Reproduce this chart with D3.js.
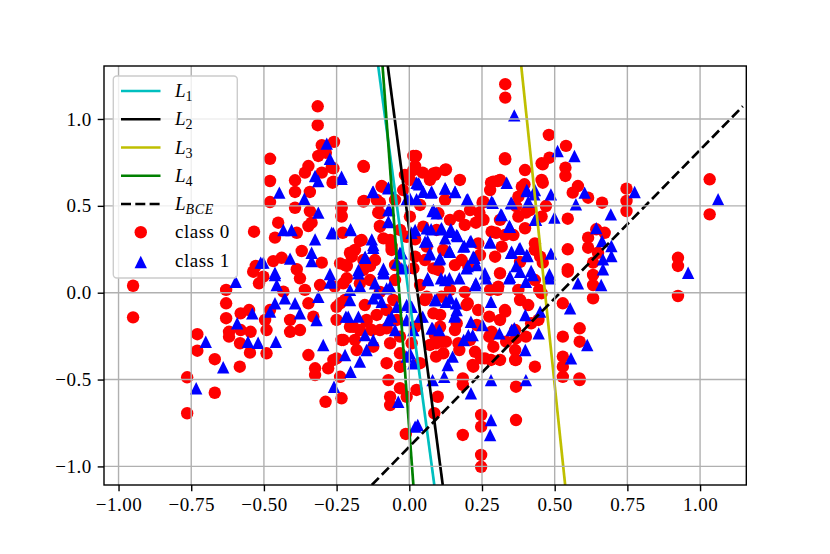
<!DOCTYPE html>
<html>
<head>
<meta charset="utf-8">
<script src="https://cdn.jsdelivr.net/npm/d3@7"></script>
<style>
html,body{margin:0;padding:0;background:#fff;}
svg{display:block;}
text{font-family:"Liberation Serif","Times New Roman",serif;}
</style>
</head>
<body>
<svg id="chart" width="830" height="554"></svg>
<script>
// ---------------- data ----------------
const xTicks = [-1, -0.75, -0.5, -0.25, 0, 0.25, 0.5, 0.75, 1];
const yTicks = [-1, -0.5, 0, 0.5, 1];

const lineL1 = [[-0.107, 1.305], [0.086, -1.107]];
const lineL2 = [[-0.074, 1.305], [0.115, -1.107]];
const lineL3 = [[0.385, 1.305], [0.536, -1.107]];
const lineL4 = [[-0.092, 1.305], [0.014, -1.107]];
const lineBCE = [[-0.129, -1.107], [1.147, 1.073]];

const class0 = [
[-0.534,0.351],[-0.528,0.154],[-0.950,0.040],[-0.950,-0.142],[-0.537,0.121],[-0.630,0.016],[-0.630,-0.061],[-0.630,-0.147],[-0.620,-0.225],[-0.620,-0.253],
[-0.580,-0.119],[-0.551,-0.100],[-0.580,-0.215],[-0.546,-0.225],[-0.582,-0.291],[-0.548,-0.345],[-0.729,-0.239],[-0.729,-0.334],[-0.669,-0.383],[-0.583,-0.426],
[-0.764,-0.487],[-0.669,-0.576],[-0.764,-0.694],[-0.517,0.054],
[-0.315,1.073],[-0.315,0.964],[-0.301,0.849],[-0.259,0.868],[-0.313,0.787],[-0.287,0.806],[-0.479,0.771],[-0.156,0.725],[-0.347,0.729],[-0.359,0.691],
[-0.301,0.691],[-0.267,0.720],[-0.264,0.633],[-0.393,0.647],[-0.479,0.643],[-0.342,0.580],[-0.393,0.580],[-0.479,0.522],[-0.393,0.489],[-0.342,0.470],
[-0.233,0.489],[-0.233,0.442],[-0.156,0.528],[-0.095,0.614],[0.014,0.787],[0.020,0.729],[-0.101,0.518],[-0.107,0.461],[-0.101,0.384],[-0.451,0.403],
[-0.462,0.317],[-0.387,0.345],[-0.347,0.384],[-0.336,0.403],[-0.229,0.345],[-0.170,0.298],[-0.204,0.230],[-0.061,0.269],[0.020,0.307],[-0.370,0.240],
[-0.301,0.173],[-0.439,0.201],[-0.468,0.182],[-0.387,0.135],[-0.215,0.154],[-0.135,0.154],
[-0.502,0.092],[-0.376,0.083],[-0.433,0.006],[-0.479,-0.100],[-0.347,-0.061],[-0.410,-0.157],[-0.410,-0.225],[-0.491,-0.215],[-0.491,-0.349],[-0.330,-0.138],
[-0.347,-0.359],[-0.324,-0.435],[-0.324,-0.474],[-0.279,-0.435],[-0.250,-0.378],[-0.233,-0.272],[-0.238,-0.484],[-0.288,-0.628],[-0.233,-0.608],[-0.181,-0.330],
[-0.129,-0.215],[-0.238,-0.061],[-0.193,-0.196],[-0.147,-0.167],[-0.078,-0.205],[-0.078,-0.100],[-0.170,0.054],[-0.227,0.054],[-0.032,-0.253],[-0.032,-0.349],
[-0.032,-0.426],[-0.072,-0.503],[-0.032,-0.550],[-0.066,-0.599],[-0.066,-0.647],[-0.009,-0.599],[0.025,-0.560],[-0.012,-0.813],
[0.330,1.200],[0.330,1.123],[0.480,0.908],[0.539,0.845],[0.482,0.777],[0.459,0.739],[0.537,0.720],[0.537,0.672],[0.459,0.633],[0.330,0.768],
[0.023,0.787],[0.281,0.633],[0.304,0.643],[0.396,0.624],[0.562,0.576],[0.470,0.499],[0.545,0.426],[0.401,0.461],[0.367,0.499],[0.252,0.518],
[0.252,0.423],[0.298,0.345],[0.545,0.250],[0.545,0.135],[0.126,0.710],[0.092,0.691],[0.046,0.691],[0.172,0.442],[0.229,0.403],[0.241,0.461],[0.459,0.173],
[0.545,0.121],[0.447,0.016],[0.304,0.016],[0.201,-0.061],[0.275,-0.138],[0.330,-0.109],[0.528,-0.061],[0.419,-0.176],[0.401,-0.253],[0.528,-0.253],
[0.367,-0.263],[0.333,-0.282],[0.275,-0.253],[0.367,-0.387],[0.092,-0.291],[0.126,-0.282],[0.172,-0.330],[0.092,-0.368],[0.218,-0.416],[0.247,-0.378],
[0.281,-0.387],[0.528,-0.368],[0.528,-0.426],[0.528,-0.484],[0.585,-0.493],[0.184,-0.493],[0.184,-0.531],[0.367,-0.541],[0.098,-0.599],[0.086,-0.694],
[0.247,-0.704],[0.247,-0.771],[0.367,-0.733],[0.184,-0.819],[0.247,-0.934],[0.247,-1.002],
[0.580,0.614],[0.615,0.547],[0.663,0.518],[0.747,0.599],[0.747,0.528],[0.747,0.470],[1.033,0.653],[1.033,0.451],[0.643,0.365],[0.672,0.345],
[0.615,0.317],[0.615,0.259],[0.649,0.230],[0.632,0.173],[0.924,0.201],[0.924,0.154],
[0.632,0.102],[0.632,0.044],[0.632,-0.032],[0.924,-0.019],[0.586,-0.205],[0.586,-0.282],[0.586,-0.503],
[-0.158,0.729],[0.020,0.783],[0.014,0.706],[-0.261,0.716],[-0.261,0.639],[-0.095,0.610],[-0.158,0.524],[-0.233,0.495],[-0.233,0.438],[-0.112,0.534],
[-0.101,0.457],[-0.101,0.380],[-0.089,0.313],[-0.164,0.303],[-0.187,0.246],[-0.198,0.207],[-0.158,0.188],[-0.021,0.591],[0.002,0.649],[0.002,0.438],
[-0.009,0.322],[0.048,0.380],[0.060,0.265],[0.083,0.687],[0.094,0.361],[0.020,0.207],[-0.061,0.246],
[0.329,0.774],[0.123,0.706],[0.088,0.678],[0.289,0.639],[0.312,0.649],[0.387,0.610],[0.455,0.745],[0.455,0.649],[0.255,0.524],[0.123,0.534],
[0.100,0.457],[0.140,0.419],[0.255,0.419],[0.375,0.553],[0.375,0.438],[0.398,0.371],[0.455,0.438],[0.283,0.351],[0.329,0.332],[0.358,0.332],
[0.237,0.284],[0.318,0.265],[0.432,0.284],[0.450,0.207],[0.117,0.246],[0.180,0.188],[0.295,0.207],
[-0.238,0.169],[-0.215,0.083],[-0.256,0.035],[-0.250,-0.081],[-0.250,-0.157],[-0.227,-0.272],[-0.204,-0.196],[-0.147,-0.157],[-0.101,-0.215],[-0.112,-0.128],
[-0.049,0.073],[-0.055,-0.042],[-0.043,-0.157],[-0.066,-0.291],[-0.124,-0.311],[0.020,-0.196],[0.060,-0.023],[0.083,-0.119],[0.083,0.140],[0.088,-0.244],
[0.037,-0.406],[-0.032,-0.426],[-0.261,-0.387],[-0.078,-0.406],[0.014,0.140],[-0.158,0.131],[0.008,-0.291],
[0.100,0.131],[0.203,0.150],[0.312,0.112],[0.306,0.035],[0.432,0.073],[0.375,0.016],[0.455,-0.003],[0.111,-0.023],[0.197,-0.071],[0.237,-0.100],
[0.329,-0.100],[0.409,-0.071],[0.106,-0.128],[0.106,-0.196],[0.163,-0.176],[0.232,-0.186],[0.283,-0.225],[0.364,-0.215],[0.444,-0.157],[0.111,-0.282],
[0.117,-0.349],[0.169,-0.291],[0.226,-0.340],[0.260,-0.378],[0.289,-0.311],[0.364,-0.330],[0.364,-0.387],[0.220,-0.426],[0.432,-0.426],
[-0.049,0.534],[-0.032,0.361],[0.037,0.505],[0.054,0.188],[-0.118,0.188],[-0.049,0.159],[0.071,0.649],[-0.015,0.678],[-0.066,0.303],
[0.174,0.649],[0.209,0.476],[0.278,0.591],[0.398,0.706],[0.415,0.476],[0.381,0.177],[0.243,0.217],[0.157,0.159],[0.312,0.419],[0.191,0.390],[0.432,0.246],
[-0.221,-0.042],[-0.153,-0.071],[-0.101,0.004],[0.037,0.044],[0.071,-0.301],[-0.187,-0.272],[-0.221,0.159],[-0.135,0.073],[0.054,-0.042],[-0.170,-0.215],
[0.140,0.016],[0.191,0.004],[0.278,0.016],[0.381,-0.042],[0.312,-0.157],[0.209,-0.272],[0.157,-0.215],[0.312,-0.387],
[-0.376,-0.215],[-0.496,-0.157],[-0.359,0.016],[-0.307,0.044]
];

const class1 = [
[-0.511,0.173],[-0.597,0.063],[-0.540,-0.119],[-0.592,-0.176],[-0.555,-0.282],[-0.520,-0.288],[-0.700,-0.282],[-0.640,-0.429],[-0.733,-0.550],
[-0.284,0.858],[-0.273,0.771],[-0.324,0.672],[-0.313,0.643],[-0.233,0.656],[-0.447,0.576],[-0.361,0.541],[-0.313,0.461],[-0.126,0.580],[-0.072,0.604],
[0.025,0.633],[-0.009,0.538],[0.025,0.538],[-0.069,0.476],[-0.072,0.407],[-0.433,0.361],[-0.405,0.361],[-0.267,0.345],[-0.202,0.365],[-0.324,0.307],
[-0.129,0.307],[-0.124,0.259],[-0.152,0.201],[-0.032,0.230],[0.008,0.345],[-0.336,0.230],[-0.336,0.182],[-0.410,0.196],[-0.502,0.173],[-0.462,0.115],
[-0.175,0.131],[-0.089,0.138],[-0.043,0.173],[-0.015,0.144],[-0.273,0.108],
[-0.462,0.102],[-0.456,0.044],[-0.273,0.058],[-0.428,-0.032],[-0.462,-0.061],[-0.393,-0.061],[-0.376,-0.119],[-0.479,-0.109],[-0.313,-0.023],[-0.319,-0.157],
[-0.459,-0.282],[-0.296,-0.301],[-0.221,-0.359],[-0.202,-0.455],[-0.259,-0.541],[-0.170,-0.397],[-0.147,-0.330],[-0.152,-0.244],[-0.124,-0.272],[-0.218,-0.138],
[-0.175,-0.138],[-0.204,-0.042],[-0.112,-0.003],[-0.118,0.054],[-0.066,0.035],[-0.043,-0.081],[-0.072,-0.157],[-0.049,-0.215],[-0.204,0.016],[-0.175,0.112],
[-0.089,0.112],[-0.009,-0.071],[-0.009,-0.157],[0.002,-0.349],[0.014,-0.406],[-0.038,-0.628],[0.020,-0.771],
[0.361,1.021],[0.510,0.816],[0.568,0.787],[0.335,0.633],[0.404,0.585],[0.430,0.566],[0.487,0.566],[0.573,0.509],[0.499,0.432],[0.436,0.419],
[0.350,0.518],[0.287,0.518],[0.315,0.451],[0.344,0.384],[0.278,0.288],[0.350,0.230],[0.378,0.253],[0.407,0.211],[0.487,0.225],[0.367,0.154],
[0.419,0.125],[0.482,0.106],[0.034,0.624],[0.075,0.576],[0.124,0.599],[0.158,0.580],[0.201,0.538],[0.080,0.470],[0.143,0.365],[0.109,0.365],
[0.075,0.365],[0.166,0.326],[0.063,0.298],[0.189,0.269],[0.212,0.298],[0.138,0.240],[0.069,0.221],[0.224,0.201],[0.103,0.192],[0.201,0.154],
[0.063,0.083],[0.109,0.083],[0.138,0.083],[0.172,0.083],[0.229,0.054],[0.264,0.083],[0.344,0.083],[0.401,0.063],[0.425,0.102],[0.482,0.083],
[0.092,-0.042],[0.126,-0.052],[0.161,-0.061],[0.046,-0.138],[0.155,-0.138],[0.212,-0.167],[0.252,-0.186],[0.281,-0.052],[0.399,-0.128],[0.450,-0.109],
[0.553,-0.090],[0.080,-0.205],[0.103,-0.215],[0.218,-0.244],[0.187,-0.272],[0.310,-0.234],[0.361,-0.205],[0.445,-0.234],[0.399,-0.330],[0.149,-0.368],
[0.132,-0.416],[0.556,-0.378],[0.120,-0.484],[0.080,-0.503],[0.281,-0.503],[0.401,-0.503],[0.212,-0.579],[0.281,-0.733],[0.278,-0.819],[0.029,-0.762],
[0.603,0.576],[0.693,0.451],[0.775,0.580],[1.062,0.538],[0.643,0.372],[0.663,0.298],[0.695,0.269],[0.695,0.211],[0.666,0.192],
[0.959,0.115],[0.666,0.135],[0.660,0.044],[0.612,-0.301],[0.580,0.054],
[-0.233,0.668],[-0.124,0.581],[-0.072,0.601],[0.031,0.630],[0.002,0.543],[0.048,0.581],[0.077,0.581],[0.083,0.476],[-0.072,0.476],[-0.072,0.409],
[-0.202,0.361],[-0.261,0.342],[0.020,0.361],[0.060,0.371],[0.054,0.294],[-0.124,0.275],[-0.152,0.207],[-0.026,0.227],[0.071,0.227],
[0.123,0.601],[0.157,0.581],[0.197,0.534],[0.283,0.524],[0.352,0.515],[0.404,0.591],[0.432,0.591],[0.409,0.524],[0.432,0.419],
[0.318,0.447],[0.346,0.380],[0.094,0.457],[0.111,0.371],[0.140,0.351],[0.163,0.332],[0.123,0.313],[0.209,0.294],[0.186,0.265],[0.278,0.294],
[0.140,0.236],[0.220,0.207],[0.352,0.236],[0.381,0.256],[0.404,0.217],[0.106,0.198],
[-0.089,0.121],[-0.267,0.063],[-0.170,0.039],[-0.078,0.025],[-0.026,0.140],[0.065,0.073],[-0.124,-0.032],[-0.095,-0.052],[0.008,-0.081],[0.088,-0.042],
[-0.210,-0.138],[-0.061,-0.138],[0.037,-0.138],[0.014,-0.215],[0.077,-0.205],[-0.009,-0.368],
[0.123,0.073],[0.197,0.140],[0.232,0.159],[0.260,0.112],[0.226,0.044],[0.346,0.092],[0.381,0.121],[0.140,-0.032],[0.163,-0.100],[0.157,-0.128],
[0.203,-0.244],[0.352,-0.215]
];

const xDomain = [-1.050, 1.159];
const yDomain = [-1.107, 1.305];

const legendItems = [
  {type:"line", sub:"1", color:"#00bfbf", dash:null, data:lineL1},
  {type:"line", sub:"2", color:"#000000", dash:null, data:lineL2},
  {type:"line", sub:"3", color:"#bfbf00", dash:null, data:lineL3},
  {type:"line", sub:"4", color:"#008000", dash:null, data:lineL4},
  {type:"line", sub:"BCE", color:"#000000", dash:"10,4.3", data:lineBCE},
  {type:"circle", label:"class 0", color:"#ff0000"},
  {type:"triangle", label:"class 1", color:"#0000ff"}
];

// ---------------- layout ----------------
const svg = d3.select("#chart");
const L = 104, T = 66, R = 746.3, B = 485;
const x = d3.scaleLinear().domain(xDomain).range([L, R]);
const y = d3.scaleLinear().domain(yDomain).range([B, T]);
const fs = 19;
const ls = "0.5px";
const msz = 6.2;

svg.append("rect").attr("width",830).attr("height",554).attr("fill","#fff");

svg.append("defs").append("clipPath").attr("id","clip")
  .append("rect").attr("x",L).attr("y",T).attr("width",R-L).attr("height",B-T);

const plot = svg.append("g").attr("clip-path","url(#clip)");

const triPath = (s) => `M0,${-s}L${-s},${s}L${s},${s}Z`;

// scatter class 0
plot.append("g").selectAll("circle").data(class0).join("circle")
  .attr("cx", d => x(d[0])).attr("cy", d => y(d[1])).attr("r", msz)
  .attr("fill","#ff0000");

// scatter class 1
plot.append("g").selectAll("path").data(class1).join("path")
  .attr("transform", d => `translate(${x(d[0])},${y(d[1])})`)
  .attr("d", triPath(msz)).attr("fill","#0000ff");

// grid (above scatter, below lines)
const grid = svg.append("g").attr("stroke","#b0b0b0").attr("stroke-width",1.4);
grid.selectAll(".gx").data(xTicks).join("line")
  .attr("x1", d => x(d)).attr("x2", d => x(d)).attr("y1", T).attr("y2", B);
grid.selectAll(".gy").data(yTicks).join("line")
  .attr("y1", d => y(d)).attr("y2", d => y(d)).attr("x1", L).attr("x2", R);

// lines
const lineGen = d3.line().x(d => x(d[0])).y(d => y(d[1]));
plot.append("g").selectAll("path").data(legendItems.filter(d => d.type==="line")).join("path")
  .attr("d", d => lineGen(d.data))
  .attr("fill","none").attr("stroke", d => d.color).attr("stroke-width",2.7)
  .attr("stroke-dasharray", d => d.dash);

// axes
const fmtX = d3.format(".2f"), fmtY = d3.format(".1f");
const xAxis = svg.append("g").attr("transform",`translate(0,${B})`)
  .call(d3.axisBottom(x).tickValues(xTicks).tickFormat(fmtX).tickSize(6.3).tickPadding(6.5));
const yAxis = svg.append("g").attr("transform",`translate(${L},0)`)
  .call(d3.axisLeft(y).tickValues(yTicks).tickFormat(fmtY).tickSize(6.3).tickPadding(6));
[xAxis, yAxis].forEach(a => {
  a.select(".domain").remove();
  a.selectAll(".tick line").attr("stroke","#000").attr("stroke-width",1.4);
  a.selectAll(".tick text").attr("fill","#000")
    .style("font-family",'"Liberation Serif","Times New Roman",serif')
    .style("font-size", fs+"px").style("letter-spacing", ls);
});

// spines
svg.append("rect").attr("x",L).attr("y",T).attr("width",R-L).attr("height",B-T)
  .attr("fill","none").attr("stroke","#000").attr("stroke-width",1.4);

// legend
const lg = svg.append("g");
lg.append("rect").attr("x",113.3).attr("y",76).attr("width",124).attr("height",202)
  .attr("rx",3.5).attr("fill","#fff").attr("fill-opacity",0.8)
  .attr("stroke","#cccccc").attr("stroke-width",1.4);
const rowY = i => 91 + i*28.25;
const hx1 = 121, hx2 = 160.5, hc = (hx1+hx2)/2, tx = 175;
legendItems.forEach((it, i) => {
  const yy = rowY(i);
  if (it.type === "line") {
    lg.append("line").attr("x1",hx1).attr("x2",hx2).attr("y1",yy).attr("y2",yy)
      .attr("stroke",it.color).attr("stroke-width",2.7).attr("stroke-dasharray",it.dash);
    const t = lg.append("text").attr("x",tx).attr("y",yy+6).style("font-size",fs+"px");
    t.append("tspan").style("font-style","italic").text("L");
    t.append("tspan").attr("dy",4).style("font-size","14px").style("letter-spacing", it.sub==="BCE" ? "0.6px" : "0px")
      .style("font-style", it.sub==="BCE" ? "italic" : "normal").text(it.sub);
  } else {
    if (it.type === "circle") {
      lg.append("circle").attr("cx",hc).attr("cy",yy).attr("r",msz).attr("fill",it.color);
    } else {
      lg.append("path").attr("transform",`translate(${hc},${yy+1.5})`).attr("d",triPath(msz)).attr("fill",it.color);
    }
    lg.append("text").attr("x",tx).attr("y",yy+6).style("font-size",fs+"px").style("letter-spacing", ls).text(it.label);
  }
});
</script>
</body>
</html>
